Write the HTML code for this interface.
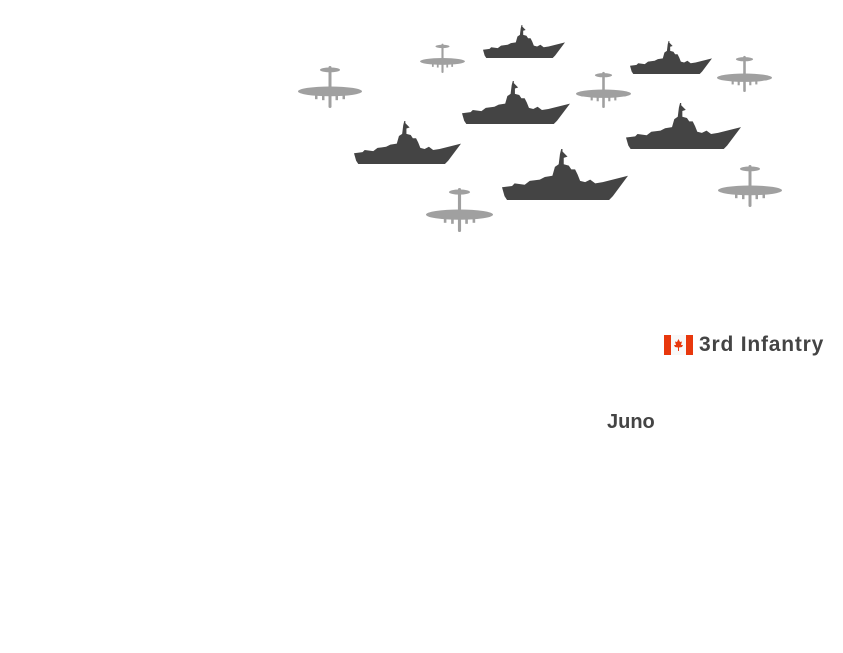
<!DOCTYPE html>
<html><head><meta charset="utf-8"><style>
html,body{margin:0;padding:0;background:#fff;width:843px;height:653px;overflow:hidden;position:relative;font-family:"Liberation Sans",sans-serif}
svg.i{position:absolute}
.t{position:absolute;font-weight:bold;color:#444;font-size:21px;white-space:nowrap}
</style></head><body>
<svg width="0" height="0" style="position:absolute">
<defs>
<symbol id="ship" viewBox="0 0 100 40" preserveAspectRatio="none">
<path fill="#444" d="M0,30 L8,29 L10,27 L18,28 L22,25 L30,24 L34,22 L40,21 L42,14 L45,12 L46,4 L47,0 L48,0 L48,2 L52,6 L49,7 L49,12 L53,13 L55,16 L58,16 L60,20 L62,25 L66,26 L70,24 L74,27 L80,26 L100,21 L88,37 L85,40 L4,40 L2,37 Z"/>
</symbol>
<symbol id="plane" viewBox="0 0 64 44" preserveAspectRatio="none">
<g fill="#a0a0a0">
<ellipse cx="32" cy="5" rx="10" ry="2.5"/>
<rect x="30.5" y="1" width="3" height="43" rx="1.5"/>
<ellipse cx="32" cy="27" rx="32" ry="5"/>
<rect x="17" y="28" width="2.5" height="7"/>
<rect x="24" y="28" width="2.5" height="8"/>
<rect x="37.5" y="28" width="2.5" height="8"/>
<rect x="44.5" y="28" width="2.5" height="7"/>
</g>
</symbol>
</defs></svg>

<svg class="i" style="left:298px;top:65px" width="64" height="43"><use href="#plane"/></svg>
<svg class="i" style="left:420px;top:43px" width="45" height="30"><use href="#plane"/></svg>
<svg class="i" style="left:576px;top:71px" width="55" height="37"><use href="#plane"/></svg>
<svg class="i" style="left:717px;top:55px" width="55" height="37"><use href="#plane"/></svg>
<svg class="i" style="left:426px;top:187px" width="67" height="45"><use href="#plane"/></svg>
<svg class="i" style="left:718px;top:164px" width="64" height="43"><use href="#plane"/></svg>

<svg class="i" style="left:483px;top:25px" width="82" height="33"><use href="#ship"/></svg>
<svg class="i" style="left:630px;top:41px" width="82" height="33"><use href="#ship"/></svg>
<svg class="i" style="left:462px;top:81px" width="108" height="43"><use href="#ship"/></svg>
<svg class="i" style="left:354px;top:121px" width="107" height="43"><use href="#ship"/></svg>
<svg class="i" style="left:626px;top:103px" width="115" height="46"><use href="#ship"/></svg>
<svg class="i" style="left:502px;top:149px" width="126" height="51"><use href="#ship"/></svg>

<svg class="i" style="left:664px;top:335px" width="29" height="20">
<rect width="29" height="20" fill="#f8f8f8"/>
<rect width="7" height="20" fill="#e8380d"/>
<rect x="22" width="7" height="20" fill="#e8380d"/>
<path fill="#e8380d" d="M14.5,4 L16,7 L18,6.5 L17,10 L19,10 L18,12 L15,12.5 L15,16 L14,16 L14,12.5 L11,12 L10,10 L12,10 L11,6.5 L13,7 Z"/>
</svg>
<div class="t" style="left:699px;top:333px;letter-spacing:0.8px">3rd Infantry</div>
<div class="t" style="left:607px;top:411px;font-size:20px">Juno</div>
</body></html>
